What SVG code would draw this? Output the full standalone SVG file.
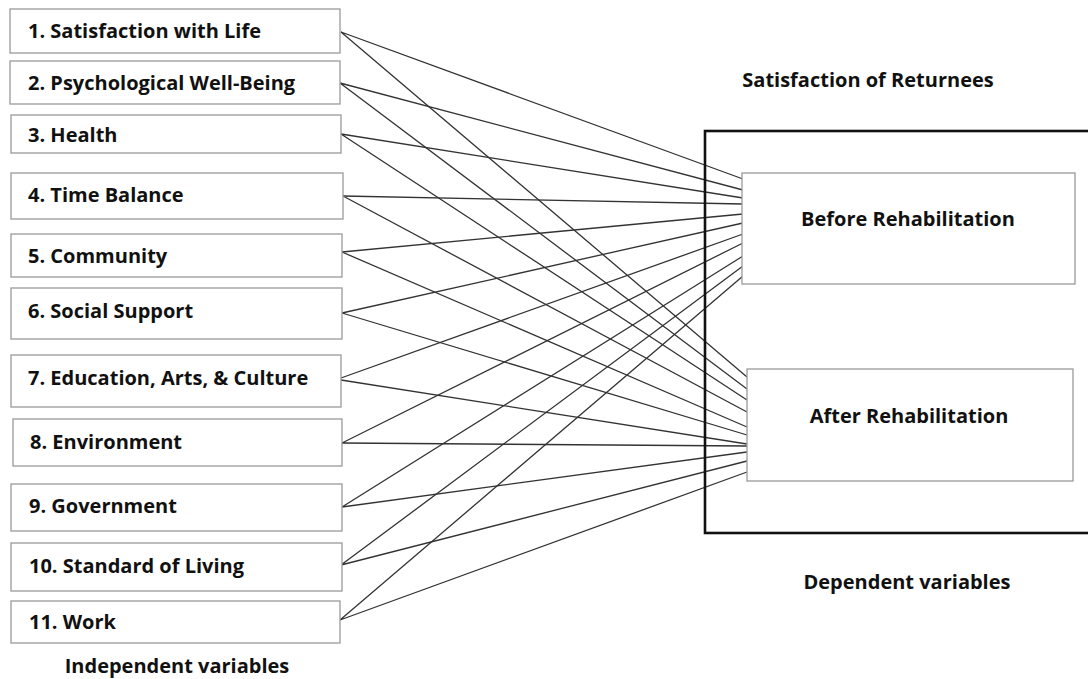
<svg xmlns="http://www.w3.org/2000/svg" width="1088" height="679" viewBox="0 0 1088 679">
<style>
.box{fill:#fff;stroke:#9a9a9a;stroke-width:1.3}
.t{font-family:"Open Sans",Lato,"Liberation Sans",sans-serif;font-weight:bold;font-size:20px;fill:#111}
.c{text-anchor:middle}
.ln{stroke:#333;stroke-width:1.3;fill:none}
</style>
<rect width="1088" height="679" fill="#fff"/>
<g id="connectors">
<path class="ln" d="M341 32L743 179M341 32L747 377"/>
<path class="ln" d="M340 83L743 190M340 83L747 389"/>
<path class="ln" d="M341 134L743 198M341 134L747 400"/>
<path class="ln" d="M343 196L743 204M343 196L747 412"/>
<path class="ln" d="M342 252L743 214M342 252L747 427"/>
<path class="ln" d="M342 313L743 223M342 313L747 435"/>
<path class="ln" d="M341 378L743 234M341 380L747 444"/>
<path class="ln" d="M342 443L743 243M342 443L747 446"/>
<path class="ln" d="M342 507L743 256M342 507L747 452"/>
<path class="ln" d="M341 565L743 266M341 565L747 461"/>
<path class="ln" d="M340 620L743 276M340 620L747 472"/>
</g>
<g id="outer">
<rect x="705" y="131" width="386" height="402" fill="none" stroke="#111" stroke-width="2.6"/>
</g>
<g id="n1"><rect class="box" x="10" y="9" width="330" height="44"/><text class="t" x="28" y="38">1. Satisfaction with Life</text></g>
<g id="n2"><rect class="box" x="10" y="61" width="330" height="43"/><text class="t" x="28" y="90">2. Psychological Well-Being</text></g>
<g id="n3"><rect class="box" x="11" y="115" width="330" height="38"/><text class="t" x="28" y="142">3. Health</text></g>
<g id="n4"><rect class="box" x="11" y="173" width="332" height="46"/><text class="t" x="28" y="202">4. Time Balance</text></g>
<g id="n5"><rect class="box" x="11" y="234" width="331" height="43"/><text class="t" x="28" y="263">5. Community</text></g>
<g id="n6"><rect class="box" x="11" y="288" width="331" height="51"/><text class="t" x="28" y="318">6. Social Support</text></g>
<g id="n7"><rect class="box" x="11" y="355" width="330" height="52"/><text class="t" x="28" y="385">7. Education, Arts, &amp; Culture</text></g>
<g id="n8"><rect class="box" x="13" y="419" width="329" height="47"/><text class="t" x="30" y="449">8. Environment</text></g>
<g id="n9"><rect class="box" x="11" y="484" width="331" height="47"/><text class="t" x="29" y="513">9. Government</text></g>
<g id="n10"><rect class="box" x="11" y="543" width="331" height="48"/><text class="t" x="29" y="573">10. Standard of Living</text></g>
<g id="n11"><rect class="box" x="11" y="601" width="329" height="42"/><text class="t" x="29" y="629">11. Work</text></g>
<g id="before"><rect class="box" x="742" y="173" width="333" height="111"/><text class="t c" x="908" y="226">Before Rehabilitation</text></g>
<g id="after"><rect class="box" x="747" y="369" width="326" height="112"/><text class="t c" x="909" y="423">After Rehabilitation</text></g>
<g id="labels">
<text class="t c" x="868" y="87">Satisfaction of Returnees</text>
<text class="t c" x="907" y="589">Dependent variables</text>
<text class="t c" x="177" y="673">Independent variables</text>
</g>
</svg>
